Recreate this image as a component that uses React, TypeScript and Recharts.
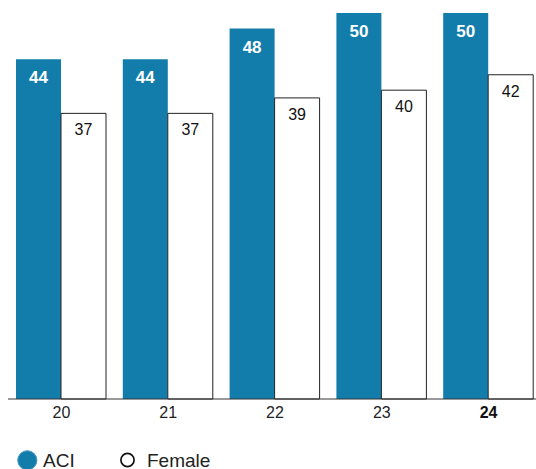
import React from 'react';
import { BarChart, Bar, XAxis, YAxis, Legend, LabelList } from 'recharts';

const ages = ['20', '21', '22', '23', '24'];
const aciValues = [44, 44, 48, 50, 50];
const femaleValues = [37, 37, 39, 40, 42];
const highlightAge = '24';

const BLUE = '#127dab';

const data = ages.map((age, i) => ({ age, aci: aciValues[i], female: femaleValues[i] }));

const AgeTick = (props: any) => {
  const { x, y, payload } = props;
  const bold = payload.value === highlightAge;
  return (
    <text
      x={x}
      y={y}
      dy="0.71em"
      textAnchor="middle"
      fontSize={16}
      fontWeight={bold ? 700 : 300}
      fontFamily="'Liberation Sans', Arial, sans-serif"
      fill={bold ? '#111' : '#222'}
    >
      {payload.value}
    </text>
  );
};

const KeyLegend = () => (
  <svg width={300} height={20} style={{ display: 'block' }}>
    <circle cx={27.3} cy={10.3} r={9.6} fill={BLUE} stroke="#4a9cc4" strokeWidth={1} />
    <text x={43} y={16.5} fontSize={19} fill="#222" fontFamily="'Liberation Sans', Arial, sans-serif">
      ACI
    </text>
    <circle cx={127.5} cy={10} r={6.6} fill="#fff" stroke="#111" strokeWidth={1.7} />
    <text x={147} y={16.5} fontSize={19} fill="#222" fontFamily="'Liberation Sans', Arial, sans-serif">
      Female
    </text>
  </svg>
);

export default function App() {
  return (
    <div style={{ position: 'absolute', left: 0, top: 0, width: 536, height: 469, overflow: 'hidden', background: '#fff' }}>
      <BarChart
        width={542}
        height={469}
        data={data}
        margin={{ top: 13, right: 0, left: 8, bottom: 20 }}
        barCategoryGap={8}
        barGap={0}
      >
        <XAxis
          dataKey="age"
          axisLine={{ stroke: '#333', strokeWidth: 1 }}
          tickLine={false}
          height={30}
          tick={<AgeTick />}
          interval={0}
        />
        <YAxis hide domain={[0, 50]} />
        <Legend
          content={<KeyLegend />}
          height={20}
          wrapperStyle={{ top: 450, left: 0, bottom: 'auto', width: 300 }}
        />
        <Bar dataKey="aci" fill={BLUE} isAnimationActive={false}>
          <LabelList
            dataKey="aci"
            position="insideTop"
            offset={12}
            fill="#fff"
            fontSize={17}
            fontWeight={700}
            fontFamily="'Liberation Sans Narrow', 'Arial Narrow', sans-serif"
          />
        </Bar>
        <Bar dataKey="female" fill="#fff" stroke="#222" strokeWidth={1} isAnimationActive={false}>
          <LabelList
            dataKey="female"
            position="insideTop"
            offset={10.5}
            fill="#111"
            fontSize={16}
            fontFamily="'Liberation Sans Narrow', 'Arial Narrow', sans-serif"
          />
        </Bar>
      </BarChart>
    </div>
  );
}
